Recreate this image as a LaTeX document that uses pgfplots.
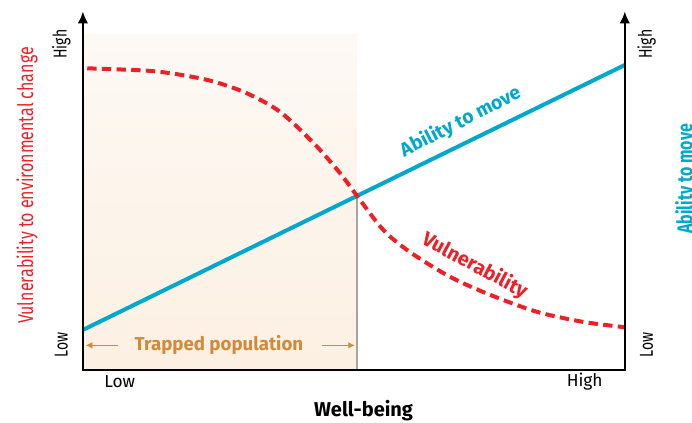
\documentclass[border=0pt]{standalone}
\usepackage{pgfplots}
\pgfplotsset{compat=1.18}
\usetikzlibrary{arrows.meta}
\usepackage{fontspec}
\setmainfont{Fira Sans}
\definecolor{vred}{RGB}{237,32,39}
\definecolor{ablue}{RGB}{0,168,204}
\definecolor{torange}{RGB}{208,138,58}
\definecolor{shadebot}{RGB}{252,240,226}
\definecolor{shadetop}{RGB}{253,249,245}
\begin{document}
\begin{tikzpicture}
\begin{axis}[
  x=40.65pt, y=25.125pt,
  xmin=0, xmax=10, ymin=0, ymax=10,
  axis lines=none, clip=false, ticks=none]
\coordinate (BL) at (axis cs:-1.53,-1.58);
\coordinate (TR) at (axis cs:11.24,11.04);
\fill[top color=shadetop, bottom color=shadebot] (axis cs:0,0) rectangle (axis cs:5.06,10);
\draw[gray!70, line width=1.5pt] (axis cs:5.06,0) -- (axis cs:5.06,5.19);
\addplot[ablue, line width=3pt] coordinates {(0,1.19) (10,9.10)};
\addplot[vred, line width=3pt, dash pattern=on 7pt off 4pt, smooth] coordinates {
(0.08,9.0) (1.18,8.93) (1.79,8.81) (2.40,8.61) (3.02,8.26) (3.63,7.71) (4.25,6.78) (4.74,5.88) (5.06,5.19)
(5.54,4.18) (6.03,3.52) (6.77,2.78) (7.51,2.24) (8.38,1.73) (9.23,1.43) (10,1.27)};
\draw[line width=1.8pt, -{Latex[length=9pt,width=8pt]}] (axis cs:0,0) -- (axis cs:0,10.7);
\draw[line width=1.8pt, -{Latex[length=9pt,width=8pt]}] (axis cs:10,0) -- (axis cs:10,10.7);
\draw[line width=1.8pt] (axis cs:-0.02,0) -- (axis cs:10.02,0);
% trapped population
\draw[torange, line width=1pt, -{Latex[length=5pt,width=5pt]}] (axis cs:0.65,0.73) -- (axis cs:0.05,0.73);
\draw[torange, line width=1pt, -{Latex[length=5pt,width=5pt]}] (axis cs:4.41,0.73) -- (axis cs:5.02,0.73);
\node[torange, font=\fontsize{14}{16}\selectfont\bfseries] at (axis cs:2.51,0.73) {Trapped population};
% labels
\node[font=\fontsize{15}{17}\selectfont\bfseries] at (axis cs:5.18,-1.22) {Well-being};
\node[font=\fontsize{13}{15}\selectfont] at (axis cs:0.68,-0.36) {Low};
\node[font=\fontsize{13}{15}\selectfont] at (axis cs:9.26,-0.36) {High};
\node[rotate=90, font=\fontsize{14}{16}\selectfont] at (axis cs:-0.4,9.72) {\scalebox{0.75}[1]{High}};
\node[rotate=90, font=\fontsize{14}{16}\selectfont] at (axis cs:-0.4,0.75) {\scalebox{0.75}[1]{Low}};
\node[rotate=90, font=\fontsize{14}{16}\selectfont] at (axis cs:10.4,9.72) {\scalebox{0.75}[1]{High}};
\node[rotate=90, font=\fontsize{14}{16}\selectfont] at (axis cs:10.4,0.75) {\scalebox{0.75}[1]{Low}};
\node[rotate=90, vred, font=\fontsize{16}{18}\selectfont] at (axis cs:-1.03,5.5) {\scalebox{0.75}[1]{Vulnerability to environmental change}};
\node[rotate=90, ablue, font=\fontsize{16}{18}\selectfont\bfseries] at (axis cs:11.13,5.7) {\scalebox{0.75}[1]{Ability to move}};
\node[rotate=27, ablue, font=\fontsize{14.5}{16}\selectfont\bfseries] at (axis cs:6.97,7.40) {Ability to move};
\node[rotate=-28, vred, font=\fontsize{15}{17}\selectfont\bfseries] at (axis cs:7.23,3.10) {Vulnerability};
\end{axis}
\pgfresetboundingbox
\path[use as bounding box] (BL) rectangle (TR);
\end{tikzpicture}
\end{document}
